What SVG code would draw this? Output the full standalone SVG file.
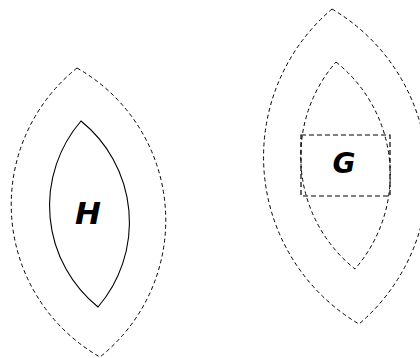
<svg xmlns="http://www.w3.org/2000/svg" width="420" height="358" viewBox="0 0 420 358">
<style>
.dash{fill:none;stroke:#000;stroke-width:1;stroke-dasharray:4 3}
.solid{fill:none;stroke:#000;stroke-width:1.1}
.rect{fill:none;stroke:#000;stroke-width:1.2;stroke-dasharray:5 3}
.lbl{font-family:"DejaVu Sans",sans-serif;font-weight:bold;font-style:italic;text-anchor:middle;fill:#000}
</style>
<rect width="420" height="358" fill="#fff"/>
<g id="H-outer">
<path class="dash" d="M77 68 A175 175 0 0 1 100 357 A175 175 0 0 1 77 68 Z"/>
</g>
<g id="H">
<path class="solid" d="M81 121 A130 130 0 0 1 98 307 A130 130 0 0 1 81 121 Z"/>
<text class="lbl" x="88" y="224" font-size="31">H</text>
</g>
<g id="G-outer">
<path class="dash" d="M332 9 A194 194 0 0 1 359 324 A194 194 0 0 1 332 9 Z"/>
</g>
<g id="G-inner">
<path class="dash" d="M336 62 A144 144 0 0 1 355 269 A144 144 0 0 1 336 62 Z"/>
</g>
<g id="G">
<rect class="rect" x="301" y="135" width="89" height="61"/>
<text class="lbl" x="344" y="173" font-size="28">G</text>
</g>
</svg>
